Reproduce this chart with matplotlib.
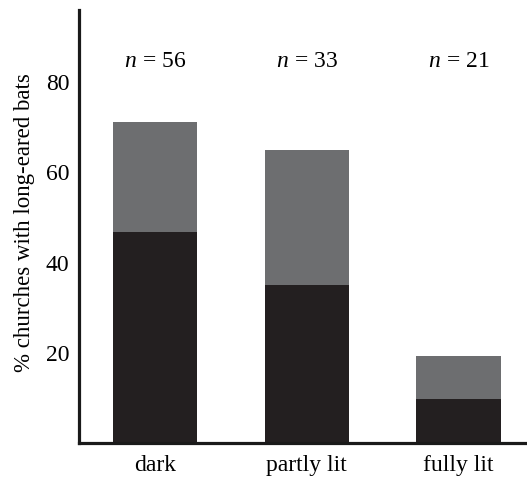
import matplotlib
matplotlib.use("Agg")
import matplotlib.pyplot as plt
import numpy as np

plt.rcParams['font.family'] = ['Liberation Serif', 'DejaVu Serif']
plt.rcParams['mathtext.fontset'] = 'custom'
plt.rcParams['mathtext.rm'] = 'Liberation Serif'
plt.rcParams['mathtext.it'] = 'Liberation Serif:italic'

# data
categories = ['dark', 'partly lit', 'fully lit']
black_part = [46.7, 35.0, 9.7]
total = [71.2, 65.0, 19.2]
n_counts = [56, 33, 21]
yticks = [20, 40, 60, 80]

grey_part = [t - b for t, b in zip(total, black_part)]
x = np.arange(len(categories))

fig = plt.figure(figsize=(5.27, 4.82), dpi=100)
ax = fig.add_axes([0.150, 0.081, 0.850, 0.898])

ax.bar(x, black_part, width=0.557, color='#231f20', linewidth=0)
ax.bar(x, grey_part, width=0.557, bottom=black_part, color='#6d6e70', linewidth=0)

for xi, n in zip(x, n_counts):
    ax.text(xi, 84.5, rf'$n\,{{=}}\,{n}$', ha='center', va='center', fontsize=17)

ax.set_xlim(-0.5, 2.45)
ax.set_ylim(0, 96)
ax.set_xticks(x)
ax.set_xticklabels(categories)
ax.set_yticks(yticks)
ax.tick_params(axis='both', length=0, labelsize=17)
ax.tick_params(axis='x', pad=9)
ax.tick_params(axis='y', pad=7)
ax.set_ylabel('% churches with long-eared bats', fontsize=16.5)
ax.yaxis.set_label_coords(-0.098, 0.51)

for side in ['top', 'right']:
    ax.spines[side].set_visible(False)
for side in ['left', 'bottom']:
    ax.spines[side].set_linewidth(2.3)
    ax.spines[side].set_color('#1a1a1a')

fig.savefig('out.png', dpi=100)
